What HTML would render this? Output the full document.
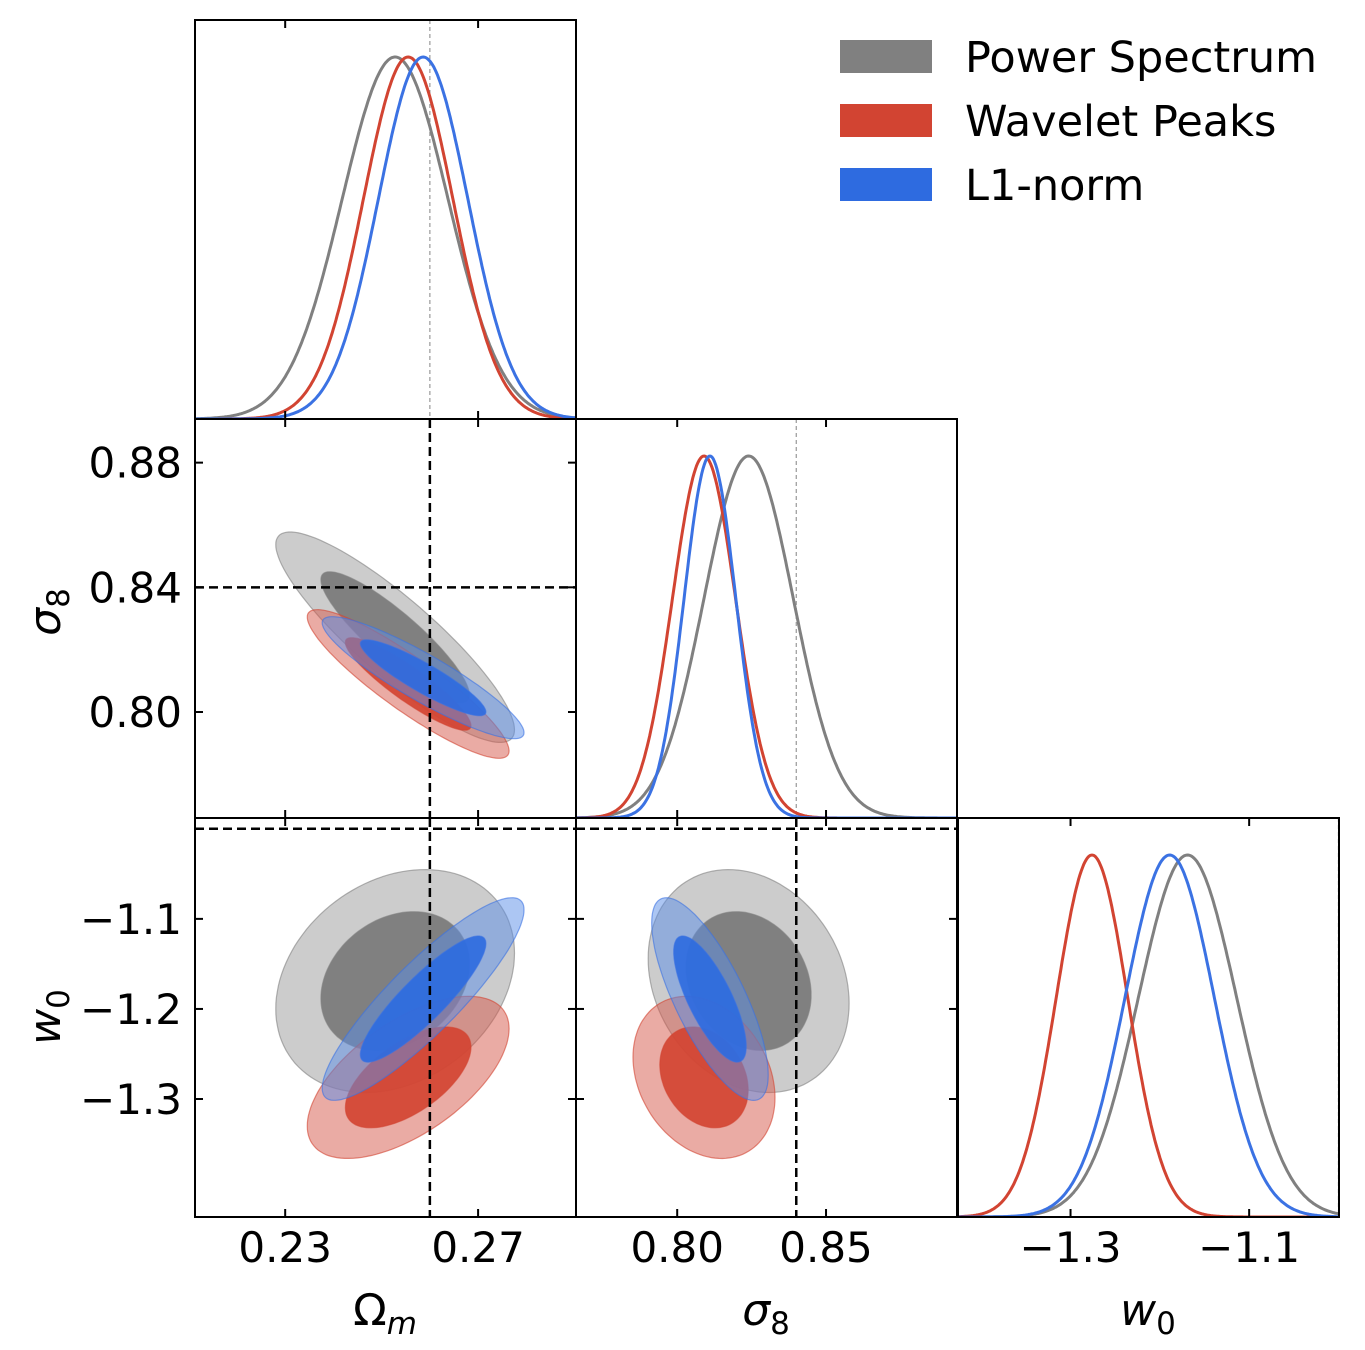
<!DOCTYPE html>
<html><head><meta charset="utf-8"><style>
html,body{margin:0;padding:0;background:#fff;}
svg{display:block;font-family:"DejaVu Sans","Liberation Sans",sans-serif;}
</style></head><body>
<svg id="c" width="1365" height="1350" viewBox="0 0 1365 1350"></svg>
<script>
// ---- data ----
const paramNames = ["Omega_m","sigma_8","w0"];
const seriesNames = ["Power Spectrum","Wavelet Peaks","L1-norm"];
const truthValues = [0.26, 0.84, -1.0];
const meansPS = [0.2528, 0.824, -1.169];
const meansWP = [0.2555, 0.809, -1.276];
const meansL1 = [0.2586, 0.811, -1.189];
const sigmasPS = [0.011, 0.015, 0.055];
const sigmasWP = [0.0093, 0.0106, 0.040];
const sigmasL1 = [0.0093, 0.0087, 0.050];
// correlations: [Om-s8, Om-w0, s8-w0]
const corrPS = [-0.88, 0.25, -0.2];
const corrWP = [-0.9, 0.6, -0.25];
const corrL1 = [-0.9, 0.88, -0.75];
const omTicks = [0.23, 0.27];
const s8Ticks = [0.80, 0.85];
const s8YTicks = [0.80, 0.84, 0.88];
const w0Ticks = [-1.3, -1.1];
const w0YTicks = [-1.3, -1.2, -1.1];

// ---- layout ----
const svg = document.getElementById('c');
const NS = "http://www.w3.org/2000/svg";
const colX = [195, 576, 958], colW = 381;
const rowY = [20, 419, 818], rowH = 399;
const ranges = [[0.2113,0.2903],[0.766,0.894],[-1.426,-0.9994]];
const yRanges = [[0.2113,0.2903],[0.766,0.894],[-1.431,-0.988]];
function sx(p,v){const r=ranges[p];return colX[p]+(v-r[0])/(r[1]-r[0])*colW;}
function sy(p,v){const r=yRanges[p];return rowY[p]+rowH-(v-r[0])/(r[1]-r[0])*rowH;}
function el(tag,attrs,parent){const e=document.createElementNS(NS,tag);for(const k in attrs)e.setAttribute(k,attrs[k]);(parent||svg).appendChild(e);return e;}
const series = [
 {m:meansPS,s:sigmasPS,c:corrPS,line:"#808080",f95:"#9a9a9a",f68:"#7a7a7a",n:"power-spectrum"},
 {m:meansWP,s:sigmasWP,c:corrWP,line:"#d24432",f95:"#d6584a",f68:"#d24432",n:"wavelet-peaks"},
 {m:meansL1,s:sigmasL1,c:corrL1,line:"#3b72e3",f95:"#5a8ee8",f68:"#2e6be0",n:"l1-norm"}
];
const defs = el('defs',{});
for(let i=0;i<3;i++)for(let j=0;j<=i;j++){
  const cp=el('clipPath',{id:'cl'+i+j},defs);
  el('rect',{x:colX[j],y:rowY[i],width:colW,height:rowH},cp);
}
function corrIdx(a,b){if(a===0&&b===1)return 0;if(a===0&&b===2)return 1;return 2;}

// diagonal panels
for(let p=0;p<3;p++){
  const g=el('g',{'clip-path':'url(#cl'+p+p+')'});
  
  
  const tx=sx(p,truthValues[p]);
  const t=el('line',{x1:tx,x2:tx,y1:rowY[p],y2:rowY[p]+rowH,stroke:'#999','stroke-width':1.2,'stroke-dasharray':'4,3'},g);
  
  
  const peakY=rowY[p]+37, base=rowY[p]+rowH;
  series.forEach(S=>{
    let d='';
    for(let k=0;k<=300;k++){
      const v=ranges[p][0]+(ranges[p][1]-ranges[p][0])*k/300;
      const z=(v-S.m[p])/S.s[p];
      const y=base-(base-peakY)*Math.exp(-0.5*z*z);
      d+=(k?'L':'M')+sx(p,v).toFixed(1)+','+y.toFixed(1);
    }
    const path=el('path',{d:d,fill:'none',stroke:S.line,'stroke-width':3},g);
    
    
  });
}

// 2D panels
const R95=2.25, R68=1.4;
for(let i=1;i<3;i++)for(let j=0;j<i;j++){
  const g=el('g',{'clip-path':'url(#cl'+i+j+')'});
  
  
  series.forEach(S=>{
    const sa=S.s[j], sb=S.s[i], r=S.c[corrIdx(j,i)];
    [[R95,S.f95,0.5,'95'],[R68,S.f68,0.92,'68']].forEach(([R,col,op,lab])=>{
      let d='';
      for(let k=0;k<=120;k++){
        const t=2*Math.PI*k/120;
        const u=R*Math.cos(t), w=R*Math.sin(t);
        const a=S.m[j]+sa*u;
        const b=S.m[i]+sb*(r*u+Math.sqrt(1-r*r)*w);
        d+=(k?'L':'M')+sx(j,a).toFixed(1)+','+sy(i,b).toFixed(1);
      }
      const e=el('path',{d:d+'Z',fill:col,'fill-opacity':op,stroke:S.line,'stroke-opacity':0.6,'stroke-width':1.2},g);
      
      
    });
  });
  const tx=sx(j,truthValues[j]), ty=sy(i,truthValues[i]);
  const v=el('line',{x1:tx,x2:tx,y1:rowY[i],y2:rowY[i]+rowH,stroke:'#000','stroke-width':2.5,'stroke-dasharray':'9,5'},g);
  
  
  const h=el('line',{x1:colX[j],x2:colX[j]+colW,y1:ty,y2:ty,stroke:'#000','stroke-width':2.5,'stroke-dasharray':'9,5'},g);
  
  
}

// frames, ticks, labels
const xTicks=[omTicks,s8Ticks,w0Ticks], yTicks=[null,s8YTicks,w0YTicks];
function fmt(v,p){return v.toFixed(p===2?1:2).replace('-','\u2212');}
for(let i=0;i<3;i++)for(let j=0;j<=i;j++){
  const x0=colX[j],y0=rowY[i];
  const fr=el('rect',{x:x0,y:y0,width:colW,height:rowH,fill:'none',stroke:'#000','stroke-width':2});
  
  
  xTicks[j].forEach(v=>{
    const x=sx(j,v);
    el('line',{x1:x,x2:x,y1:y0+rowH,y2:y0+rowH-8,stroke:'#000','stroke-width':2});
    el('line',{x1:x,x2:x,y1:y0,y2:y0+8,stroke:'#000','stroke-width':2});
    if(i===2){
      const t=el('text',{x:x,y:1262,'font-size':42,'text-anchor':'middle',fill:'#000'});
      t.textContent=fmt(v,j);
      
      
    }
  });
  if(i!==j){
    yTicks[i].forEach(v=>{
      const y=sy(i,v);
      el('line',{x1:x0,x2:x0+8,y1:y,y2:y,stroke:'#000','stroke-width':2});
      el('line',{x1:x0+colW,x2:x0+colW-8,y1:y,y2:y,stroke:'#000','stroke-width':2});
      if(j===0){
        const t=el('text',{x:182,y:y+15,'font-size':42,'text-anchor':'end',fill:'#000'});
        t.textContent=fmt(v,i);
        
        
      }
    });
  }
}
// axis titles
function title(x,y,main,sub,rot,name){
  const t=el('text',{x:x,y:y,'font-size':44,'text-anchor':'middle',fill:'#000',transform:rot?`rotate(-90 ${x} ${y})`:''});
  const a=el('tspan',{'font-style':main==='\u03a9'?'normal':'italic'},t);a.textContent=main;
  const b=el('tspan',{'font-size':31,dy:9,'font-style':sub==='m'?'italic':'normal'},t);b.textContent=sub;
  
  
}
title(385,1325,'\u03a9','m',false,'x-axis-title-omega-m');
title(766,1325,'\u03c3','8',false,'x-axis-title-sigma-8');
title(1148,1325,'w','0',false,'x-axis-title-w0');
title(60,612,'\u03c3','8',true,'y-axis-title-sigma-8');
title(60,1017,'w','0',true,'y-axis-title-w0');

// legend
const lg=el('g',{});


const legCols=['#808080','#d24432','#2e6be0'];
seriesNames.forEach((n,k)=>{
  const y=40+k*64;
  const r=el('rect',{x:840,y:y,width:92,height:33,fill:legCols[k]},lg);
  
  
  const t=el('text',{x:965,y:y+32,'font-size':43,fill:'#000'},lg);
  t.textContent=n;
  
  
});
</script>
</body></html>
